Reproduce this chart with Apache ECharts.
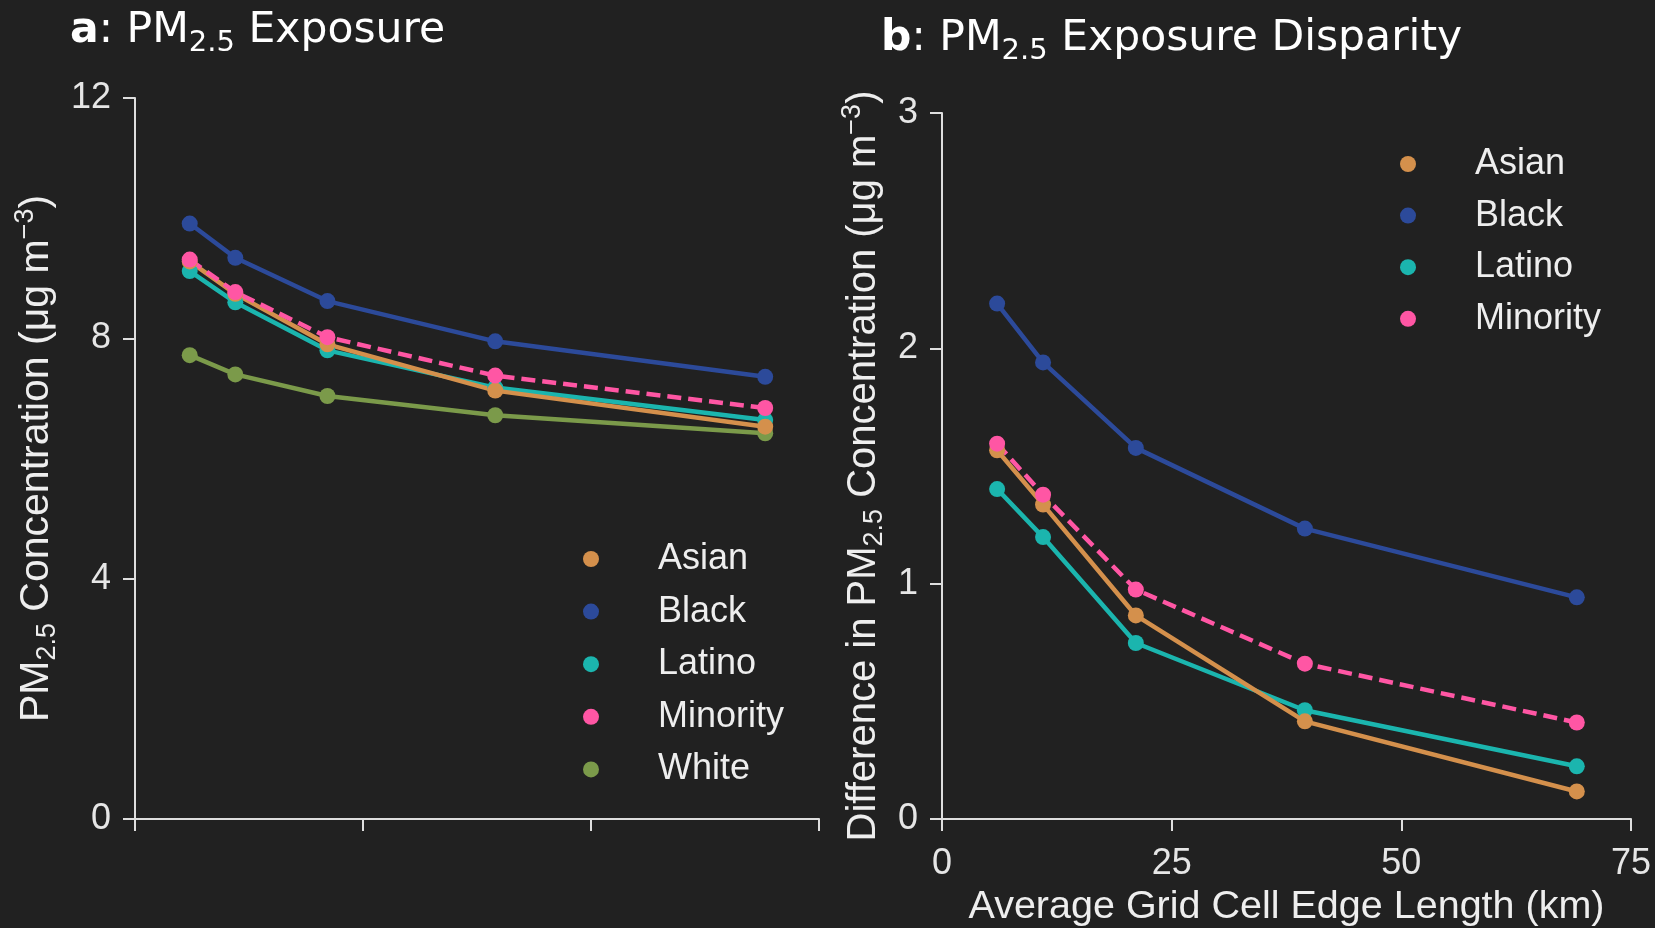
<!DOCTYPE html>
<html>
<head>
<meta charset="utf-8">
<title>PM2.5 exposure</title>
<script src="https://cdn.jsdelivr.net/npm/echarts@6/dist/echarts.min.js"></script>
<style>
  html, body { margin: 0; padding: 0; background: #212121; }
  #chart { width: 1655px; height: 928px; }
</style>
</head>
<body>
<div id="chart"></div>
<script>
// grid cell edge length (km), same for both panels
var cellSize = [6, 11, 21.1, 39.5, 69.1];

// panel a: exposure (ug m-3)
var asianConc = [9.28, 8.74, 7.90, 7.13, 6.53];
var blackConc = [9.91, 9.34, 8.62, 7.95, 7.36];
var latinoConc = [9.12, 8.60, 7.80, 7.18, 6.64];
var minorityConc = [9.31, 8.77, 8.02, 7.38, 6.84];
var whiteConc = [7.72, 7.40, 7.04, 6.72, 6.42];

// panel b: disparity vs white
var asianDiff = [1.567, 1.336, 0.865, 0.415, 0.117];
var blackDiff = [2.19, 1.94, 1.577, 1.234, 0.942];
var latinoDiff = [1.402, 1.198, 0.748, 0.462, 0.224];
var minorityDiff = [1.595, 1.378, 0.975, 0.66, 0.41];

// ticks
var xTicks = [0, 25, 50, 75];
var yTicksA = [0, 4, 8, 12];
var yTicksB = [0, 1, 2, 3];

var colors = {
  Asian: '#d4904c',
  Black: '#2c4a9a',
  Latino: '#1bb5ae',
  Minority: '#ff56a4',
  White: '#7b9a4a'
};

var axisCol = '#dedede';
var sans = 'Liberation Sans';

function pairs(ys) {
  var out = [];
  for (var i = 0; i < cellSize.length; i++) out.push([cellSize[i], ys[i]]);
  return out;
}

function mkSeries(name, ys, idx, dashed) {
  return {
    name: name,
    type: 'line',
    xAxisIndex: idx,
    yAxisIndex: idx,
    data: pairs(ys),
    symbol: 'circle',
    symbolSize: 16,
    color: colors[name],
    lineStyle: { width: 4.5, type: dashed ? [14, 7] : 'solid' },
    itemStyle: { color: colors[name] },
    animation: false
  };
}

function xAxis(idx, showLabels) {
  return {
    type: 'value',
    gridIndex: idx,
    min: xTicks[0],
    max: xTicks[xTicks.length - 1],
    interval: xTicks[1] - xTicks[0],
    name: showLabels ? 'Average Grid Cell Edge Length (km)' : '',
    nameLocation: 'middle',
    nameGap: 67,
    nameTextStyle: { color: '#eeeeee', fontFamily: sans, fontSize: 39.5 },
    axisLine: { lineStyle: { color: axisCol, width: 2 } },
    axisTick: { show: true, length: 12, lineStyle: { color: axisCol, width: 2 } },
    axisLabel: { show: showLabels, color: '#e6e6e6', fontFamily: sans, fontSize: 36, margin: 27 },
    splitLine: { show: false }
  };
}

function yAxis(idx, ticks, name, gap, size) {
  return {
    type: 'value',
    gridIndex: idx,
    min: ticks[0],
    max: ticks[ticks.length - 1],
    interval: ticks[1] - ticks[0],
    name: name,
    nameLocation: 'middle',
    nameGap: gap,
    nameTextStyle: {
      color: '#eeeeee', fontFamily: sans, fontSize: size,
      rich: {
        n: { fontFamily: sans, fontSize: size, color: '#eeeeee' },
        sub: { fontFamily: sans, fontSize: 27, color: '#eeeeee', padding: [22, 0, 0, 0] },
        sup: { fontFamily: sans, fontSize: 27, color: '#eeeeee', padding: [0, 0, 22, 0] }
      }
    },
    axisLine: { show: true, lineStyle: { color: axisCol, width: 2 } },
    axisTick: { show: true, length: 12, lineStyle: { color: axisCol, width: 2 } },
    axisLabel: { color: '#e6e6e6', fontFamily: sans, fontSize: 36, margin: 24 },
    splitLine: { show: false }
  };
}

var titleRich = {
  b: { fontFamily: 'DejaVu Sans', fontSize: 42.5, fontWeight: 'bold', color: '#ffffff' },
  n: { fontFamily: 'DejaVu Sans', fontSize: 42.5, fontWeight: 'normal', color: '#ffffff' },
  sub: { fontFamily: 'DejaVu Sans', fontSize: 29, fontWeight: 'normal', color: '#ffffff', padding: [25, 0, 0, 0] }
};

var legendBase = {
  orient: 'vertical',
  icon: 'circle',
  itemWidth: 124,
  itemHeight: 16,
  textStyle: { color: '#eeeeee', fontFamily: sans, fontSize: 36, lineHeight: 36 }
};

var chart = echarts.init(document.getElementById('chart'));

chart.setOption({
  backgroundColor: '#212121',
  title: [
    { text: '{b|a}{n|: PM}{sub|2.5}{n| Exposure}', left: 65, top: -1, textStyle: { fontWeight: 'normal', rich: titleRich } },
    { text: '{b|b}{n|: PM}{sub|2.5}{n| Exposure Disparity}', left: 876, top: 7, textStyle: { fontWeight: 'normal', rich: titleRich } }
  ],
  legend: [
    Object.assign({}, legendBase, { left: 578, top: 536, itemGap: 16.6, data: ['Asian', 'Black', 'Latino', 'Minority', 'White'] }),
    Object.assign({}, legendBase, { left: 1395, top: 141, itemGap: 15.6, data: ['Asian', 'Black', 'Latino', 'Minority'] })
  ],
  grid: [
    { left: 135, top: 98, width: 684, height: 721, outerBoundsMode: 'none' },
    { left: 942, top: 113, width: 689, height: 706, outerBoundsMode: 'none' }
  ],
  xAxis: [xAxis(0, false), xAxis(1, true)],
  yAxis: [
    yAxis(0, yTicksA, '{n|PM}{sub|2.5}{n| Concentration (μg m}{sup|−3}{n|)}', 74, 41),
    yAxis(1, yTicksB, '{n|Difference in PM}{sub|2.5}{n| Concentration (μg m}{sup|−3}{n|)}', 54, 40)
  ],
  series: [
    mkSeries('White', whiteConc, 0, false),
    mkSeries('Latino', latinoConc, 0, false),
    mkSeries('Asian', asianConc, 0, false),
    mkSeries('Black', blackConc, 0, false),
    mkSeries('Minority', minorityConc, 0, true),
    mkSeries('Latino', latinoDiff, 1, false),
    mkSeries('Asian', asianDiff, 1, false),
    mkSeries('Black', blackDiff, 1, false),
    mkSeries('Minority', minorityDiff, 1, true)
  ]
});
</script>
</body>
</html>
